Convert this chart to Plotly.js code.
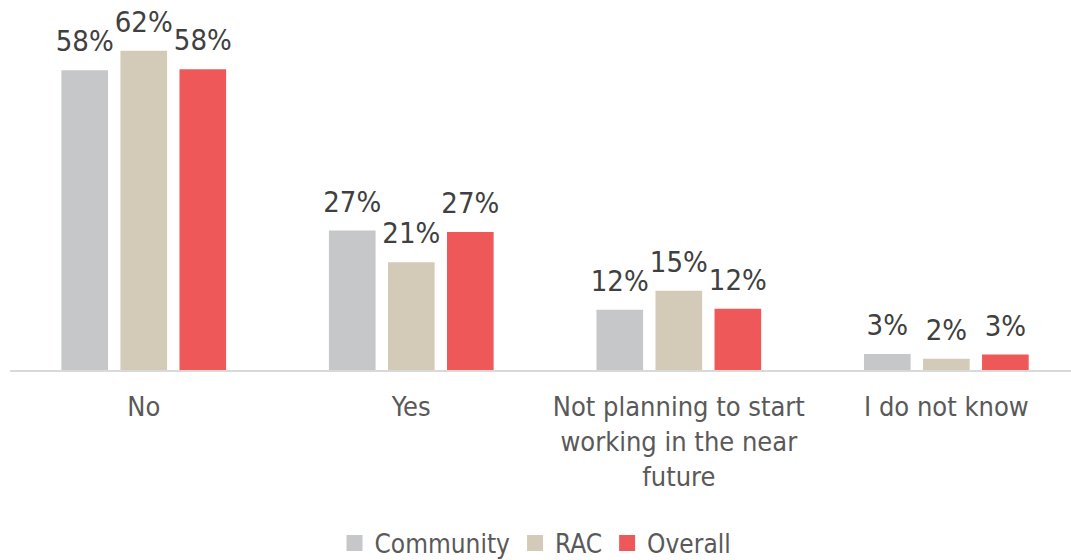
<!DOCTYPE html>
<html>
<head>
<meta charset="utf-8">
<script src="https://cdn.plot.ly/plotly-3.0.1.min.js"></script>
<style>html,body{margin:0;padding:0;background:#fff;}#chart{width:1071px;height:560px;}</style>
</head>
<body>
<div id="chart"></div>
<script>
const categories = ["No", "Yes", "Not planning to start<br>working in the near<br>future", "I do not know"];
const seriesNames = ["Community", "RAC", "Overall"];
const community = [58.2, 27.1, 11.7, 3.1];
const rac = [62.0, 20.9, 15.4, 2.2];
const overall = [58.4, 26.8, 11.9, 3.0];
const colors = ["#C6C7C9", "#D3CBB8", "#EF5859"];

const FONT = '"Liberation Sans Narrow", "Arial Narrow", "DejaVu Sans Condensed", sans-serif';
const values = [community, rac, overall];

const traces = [];
// bars
values.forEach((vals, i) => {
  traces.push({
    type: 'bar',
    name: seriesNames[i],
    x: categories,
    y: vals,
    marker: {color: colors[i]},
    showlegend: false,
    hoverinfo: 'skip'
  });
});
// value labels, grouped like the bars
values.forEach((vals, i) => {
  traces.push({
    type: 'scatter',
    mode: 'markers+text',
    name: seriesNames[i] + ' labels',
    x: categories,
    y: vals,
    text: vals.map(v => Math.round(v) + '%'),
    textposition: 'top center',
    textfont: {family: FONT, size: 29, color: '#404040'},
    marker: {size: 17, opacity: 0, color: colors[i]},
    cliponaxis: false,
    showlegend: false,
    hoverinfo: 'skip'
  });
});
// legend entries (on a separate, hidden axis pair)
values.forEach((vals, i) => {
  traces.push({
    type: 'scatter',
    mode: 'markers',
    name: seriesNames[i],
    x: [null],
    y: [null],
    xaxis: 'x2',
    yaxis: 'y2',
    marker: {color: colors[i], symbol: 'square', size: 16},
    showlegend: true,
    hoverinfo: 'skip'
  });
});

const layout = {
  width: 1071,
  height: 560,
  margin: {l: 10, r: 0, t: 10, b: 190},
  paper_bgcolor: '#ffffff',
  plot_bgcolor: 'rgba(0,0,0,0)',
  barmode: 'group',
  bargap: 0.338,
  bargroupgap: 0.21,
  scattermode: 'group',
  scattergap: 0.338,
  font: {family: FONT, color: '#595959'},
  xaxis: {
    type: 'category',
    range: [-0.5, 3.466],
    showline: true,
    linecolor: '#D9D9D9',
    linewidth: 1.5,
    ticks: '',
    ticklabelstandoff: 12,
    tickfont: {family: FONT, size: 27, color: '#595959'},
    showgrid: false,
    zeroline: false,
    automargin: false,
    fixedrange: true
  },
  yaxis: {
    range: [0, 69.9],
    visible: false,
    showgrid: false,
    zeroline: false,
    fixedrange: true
  },
  xaxis2: {overlaying: 'x', visible: false, range: [0, 1], fixedrange: true},
  yaxis2: {overlaying: 'y', visible: false, range: [0, 1], fixedrange: true},
  showlegend: true,
  legend: {
    orientation: 'h',
    x: 0.5,
    xanchor: 'center',
    xref: 'container',
    y: 0.03,
    yanchor: 'middle',
    yref: 'container',
    font: {family: FONT, size: 26, color: '#595959'},
    itemclick: false,
    itemdoubleclick: false
  }
};

Plotly.newPlot('chart', traces, layout, {displayModeBar: false, staticPlot: true});
</script>
</body>
</html>
